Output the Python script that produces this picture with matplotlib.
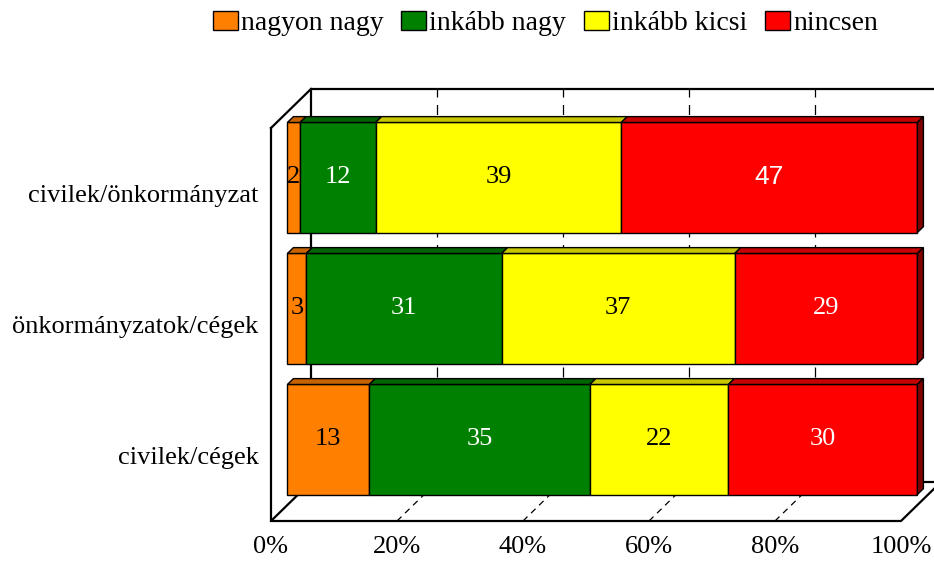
import numpy as np
import matplotlib.pyplot as plt
from matplotlib.patches import Polygon, Patch
from matplotlib.colors import to_rgb

plt.rcParams['font.family'] = ['Liberation Serif', 'DejaVu Serif']

categories = ['civilek/cégek', 'önkormányzatok/cégek', 'civilek/önkormányzat']
series = ['nagyon nagy', 'inkább nagy', 'inkább kicsi', 'nincsen']
values = [
    [13, 3, 2],     # nagyon nagy
    [35, 31, 12],   # inkább nagy
    [22, 37, 39],   # inkább kicsi
    [30, 29, 47],   # nincsen
]
colors = ['#FF8000', '#008000', '#FFFF00', '#FF0000']
label_colors = ['black', 'white', 'black', 'white']
xticks = [0, 20, 40, 60, 80, 100]
xticklabels = ['0%', '20%', '40%', '60%', '80%', '100%']

# 3d look: depth offset of the back wall in data units
DX, DY = 6.35, 0.298
D_FRONT, D_BAR = 0.41, 0.15   # bar front depth, bar thickness (fraction of depth)
BAR_H = 0.84
FS = 19


def shade(c, f):
    r, g, b = to_rgb(c)
    return (r * f, g * f, b * f)


fig = plt.figure(figsize=(9.34, 5.61), dpi=100)
ax = fig.add_axes([271 / 934, 40 / 561, 630 / 934, 393 / 561])
ax.set_xlim(0, 100)
ax.set_ylim(0, 3)
for s in ax.spines.values():
    s.set_visible(False)

line_kw = dict(color='black', lw=1.6, clip_on=False, zorder=1)
# back wall + floor + side wall
ax.plot([DX, DX, 100 + DX + 2], [DY, 3 + DY, 3 + DY], **line_kw)
ax.plot([DX, 100 + DX], [DY, DY], **line_kw)
ax.plot([0, 0, DX], [3, 0, DY], **line_kw)
ax.plot([0, DX], [3, 3 + DY], **line_kw)
ax.plot([0, 100, 100 + DX], [0, 0, DY], **line_kw)

# dashed gridlines on back wall and floor
for x in xticks[1:-1]:
    ax.plot([x + DX, x + DX], [DY, 3 + DY], color='black', lw=0.9,
            ls=(0, (8, 6)), clip_on=False, zorder=1)
    ax.plot([x, x + DX], [0, DY], color='black', lw=0.9,
            ls=(0, (5, 4)), clip_on=False, zorder=1)

ypos = np.arange(len(categories)) + 0.5
fx, fy = D_FRONT * DX, D_FRONT * DY
bx, by = D_BAR * DX, D_BAR * DY
vals = np.array(values, dtype=float)
left = np.zeros(len(categories))
for k, name in enumerate(series):
    w = vals[k]
    ax.barh(ypos + fy, w, left=left + fx, height=BAR_H, color=colors[k],
            edgecolor='black', lw=1.0, zorder=3, clip_on=False)
    for i in range(len(categories)):
        x0 = left[i] + fx
        x1 = x0 + w[i]
        yt = ypos[i] + fy + BAR_H / 2
        yb = ypos[i] + fy - BAR_H / 2
        ax.add_patch(Polygon([[x0, yt], [x1, yt], [x1 + bx, yt + by], [x0 + bx, yt + by]],
                             closed=True, facecolor=shade(colors[k], 0.78),
                             edgecolor='black', lw=1.0, zorder=3, clip_on=False))
        if k == len(series) - 1:
            ax.add_patch(Polygon([[x1, yb], [x1, yt], [x1 + bx, yt + by], [x1 + bx, yb + by]],
                                 closed=True, facecolor=shade(colors[k], 0.5),
                                 edgecolor='black', lw=1.0, zorder=3, clip_on=False))
        fam = ['Liberation Sans'] if (k == 3 and i == 2) else ['Liberation Serif']
        ax.text(x0 + w[i] / 2, ypos[i] + fy, f'{int(w[i])}', ha='center', va='center',
                fontsize=FS, color=label_colors[k], family=fam, zorder=4)
    left = left + w

ax.set_xticks(xticks)
ax.set_xticklabels(xticklabels, fontsize=FS)
ax.set_yticks(ypos)
ax.set_yticklabels(categories, fontsize=FS)
ax.tick_params(axis='both', length=0)
ax.tick_params(axis='x', pad=11)
ax.tick_params(axis='y', pad=9)

handles = [Patch(facecolor=c, edgecolor='black', lw=1.0) for c in colors]
fig.legend(handles, series, loc='upper center', bbox_to_anchor=(0.584, 1.025), ncol=4,
           frameon=False, fontsize=20, handlelength=0.9, handleheight=0.65,
           handletextpad=0.1, columnspacing=0.65)

fig.savefig('out.png', dpi=100)
